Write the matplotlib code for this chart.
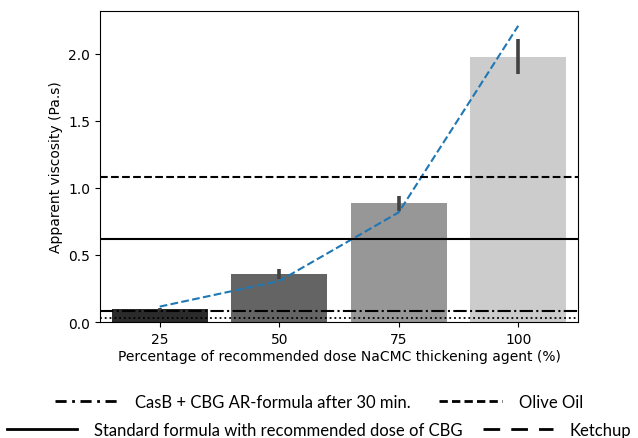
import numpy as np
import matplotlib.pyplot as plt
from matplotlib.lines import Line2D

# datos
dosis = ["25", "50", "75", "100"]
viscosidad = [0.095, 0.356, 0.885, 1.98]
err_bajo = [0.088, 0.322, 0.830, 1.850]
err_alto = [0.102, 0.392, 0.937, 2.110]
ajuste = [0.115, 0.306, 0.818, 2.21]
colores = ["#2b2b2b", "#646464", "#979797", "#cccccc"]

ref_casb = 0.082
ref_olive = 0.033
ref_standard = 0.62
ref_ketchup = 1.08

fig = plt.figure(figsize=(6.38, 4.39), dpi=100)
ax = fig.add_axes([0.1567, 0.2642, 0.7492, 0.7084])

x = np.arange(len(dosis))
v = np.array(viscosidad)
yerr = [v - np.array(err_bajo), np.array(err_alto) - v]
ax.bar(x, viscosidad, width=0.8, color=colores)
ax.errorbar(x, viscosidad, yerr=yerr, fmt='none', ecolor="#424242", elinewidth=2.6)

ax.plot(x, ajuste, linestyle='--', color="#1f77b4", linewidth=1.5)

ax.axhline(ref_casb, color='black', linestyle='-.', linewidth=1.5)
ax.axhline(ref_olive, color='black', linestyle=':', linewidth=1.3)
ax.axhline(ref_standard, color='black', linestyle='-', linewidth=1.5)
ax.axhline(ref_ketchup, color='black', linestyle='--', linewidth=1.5)

ax.set_xlim(-0.5, 3.5)
ax.set_ylim(0, 2.32)
ax.set_xticks(x)
ax.set_xticklabels(dosis)
ax.set_yticks([0, 0.5, 1.0, 1.5, 2.0])
ax.set_xlabel("Percentage of recommended dose NaCMC thickening agent (%)", labelpad=2)
ax.set_ylabel("Apparent viscosity (Pa.s)")

# Leyenda en dos filas
fuente = {'family': 'Lato', 'size': 12}
h_casb = Line2D([], [], color='black', linewidth=2, dashes=(4, 2, 1, 2))
h_olive = Line2D([], [], color='black', linewidth=2, dashes=(3, 1.5))
h_std = Line2D([], [], color='black', linewidth=2)
h_ketchup = Line2D([], [], color='black', linewidth=2, dashes=(6, 4))

leg1 = fig.legend([h_casb, h_olive], ["CasB + CBG AR-formula after 30 min.", "Olive Oil"],
                  ncol=2, loc='center', bbox_to_anchor=(0.5, 1 - 403 / 439), frameon=False,
                  prop=fuente, handlelength=3.8, handletextpad=1.0, columnspacing=1.7)
leg2 = fig.legend([h_std, h_ketchup], ["Standard formula with recommended dose of CBG", "Ketchup"],
                  ncol=2, loc='center', bbox_to_anchor=(0.5, 1 - 431 / 439), frameon=False,
                  prop=fuente, handlelength=4.2, handletextpad=1.0, columnspacing=1.2)

fig.savefig("out.png", dpi=100)
